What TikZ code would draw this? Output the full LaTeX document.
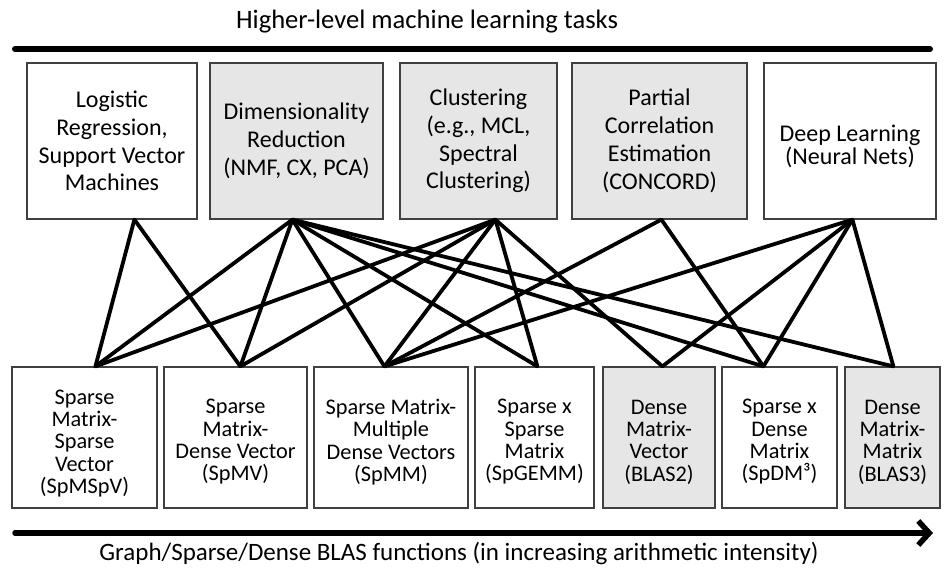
\documentclass[tikz,border=0pt]{standalone}
\usepackage{fontspec}
\setmainfont{Carlito}
\usetikzlibrary{arrows.meta}
\definecolor{boxgray}{HTML}{E6E6E6}
\definecolor{boxline}{HTML}{404040}
\tikzset{
  topbox/.style={draw=boxline, line width=1.2pt, inner sep=0pt, align=center,
    minimum height=156pt, font=\fontsize{24}{27.8}\selectfont},
  botbox/.style={draw=boxline, line width=1.2pt, inner sep=0pt, minimum height=141pt},
  bottext/.style={inner sep=0pt, align=center, font=\fontsize{22.3}{22.3}\selectfont},
  shaded/.style={fill=boxgray},
  link/.style={line width=3.8pt, line cap=round},
}
\begin{document}
\begin{tikzpicture}[x=1pt,y=-1pt]
\useasboundingbox (0,0) rectangle (949,572);

% title and top bar
\node[inner sep=0pt, font=\fontsize{26.6}{30}\selectfont] (title) at (427,22) {Higher-level machine learning tasks};
\coordinate (barL) at (15,49);
\coordinate (barR) at (930,49);
\draw[line width=6pt, line cap=round] (barL) -- (barR);

% top boxes
\node[topbox, minimum width=170pt] (T1) at (112,141) {Logistic\\Regression,\\Support Vector\\Machines};
\node[topbox, shaded, minimum width=173pt] (T2) at (296.5,141) {Dimensionality\\Reduction\\(NMF, CX, PCA)};
\node[topbox, shaded, minimum width=157pt] (T3) at (478.5,141) {Clustering\\(e.g., MCL,\\Spectral\\Clustering)};
\node[topbox, shaded, minimum width=175pt] (T4) at (659.5,141) {Partial\\Correlation\\Estimation\\(CONCORD)};
\node[topbox, minimum width=172pt] (T5) at (850,141) {};
\node[inner sep=0pt, align=center, font=\fontsize{24}{23.5}\selectfont] (T5text) at (850,146.5) {Deep Learning\\(Neural Nets)};

% bottom boxes
\node[botbox, minimum width=145pt] (B1) at (84.5,437.5) {};
\node[botbox, minimum width=143pt] (B2) at (235.5,437.5) {};
\node[botbox, minimum width=154pt] (B3) at (391,437.5) {};
\node[botbox, minimum width=119pt] (B4) at (534.5,437.5) {};
\node[botbox, shaded, minimum width=112pt] (B5) at (659,437.5) {};
\node[botbox, minimum width=115pt] (B6) at (779.5,437.5) {};
\node[botbox, shaded, minimum width=95pt] (B7) at (892.5,437.5) {};
\node[bottext] (B1text) at (84.5,443.5) {Sparse\\Matrix-\\Sparse\\Vector\\(SpMSpV)};
\node[bottext] (B2text) at (235.5,442) {Sparse\\Matrix-\\Dense Vector\\(SpMV)};
\node[bottext] (B3text) at (391,442) {Sparse Matrix-\\Multiple\\Dense Vectors\\(SpMM)};
\node[bottext] (B4text) at (534.5,442) {Sparse x\\Sparse\\Matrix\\(SpGEMM)};
\node[bottext] (B5text) at (659,442) {Dense\\Matrix-\\Vector\\(BLAS2)};
\node[bottext] (B6text) at (779.5,442) {Sparse x\\Dense\\Matrix\\(SpDM³)};
\node[bottext] (B7text) at (892.5,442) {Dense\\Matrix-\\Matrix\\(BLAS3)};

% connector end points
\path (T1.south west) ++(108,0) coordinate (t1);
\path (T2.south west) ++(83,0) coordinate (t2);
\path (T3.south west) ++(96,0) coordinate (t3);
\path (T4.south west) ++(90,0) coordinate (t4);
\path (T5.south west) ++(89,0) coordinate (t5);
\path (B1.north west) ++(84,0) coordinate (b1);
\path (B2.north west) ++(77,0) coordinate (b2);
\path (B3.north west) ++(71,0) coordinate (b3);
\path (B4.north west) ++(63,0) coordinate (b4);
\path (B5.north west) ++(60,0) coordinate (b5);
\path (B6.north west) ++(42,0) coordinate (b6);
\path (B7.north west) ++(49,0) coordinate (b7);

% connectors
\draw[link] (t1) -- (b1);
\draw[link] (t1) -- (b2);
\draw[link] (t2) -- (b1);
\draw[link] (t2) -- (b2);
\draw[link] (t2) -- (b3);
\draw[link] (t2) -- (b4);
\draw[link] (t2) -- (b6);
\draw[link] (t2) -- (b7);
\draw[link] (t3) -- (b1);
\draw[link] (t3) -- (b2);
\draw[link] (t3) -- (b3);
\draw[link] (t3) -- (b4);
\draw[link] (t3) -- (b5);
\draw[link] (t4) -- (b3);
\draw[link] (t4) -- (b6);
\draw[link] (t5) -- (b3);
\draw[link] (t5) -- (b5);
\draw[link] (t5) -- (b6);
\draw[link] (t5) -- (b7);

% bottom arrow and caption
\coordinate (arrL) at (15,533);
\coordinate (arrR) at (933,533);
\draw[line width=5.5pt, line cap=round, -{Straight Barb[length=11pt,width=24pt]}] (arrL) -- (arrR);
\node[inner sep=0pt, font=\fontsize{25}{29}\selectfont] (foot) at (459,553) {Graph/Sparse/Dense BLAS functions (in increasing arithmetic intensity)};
\end{tikzpicture}
\end{document}
